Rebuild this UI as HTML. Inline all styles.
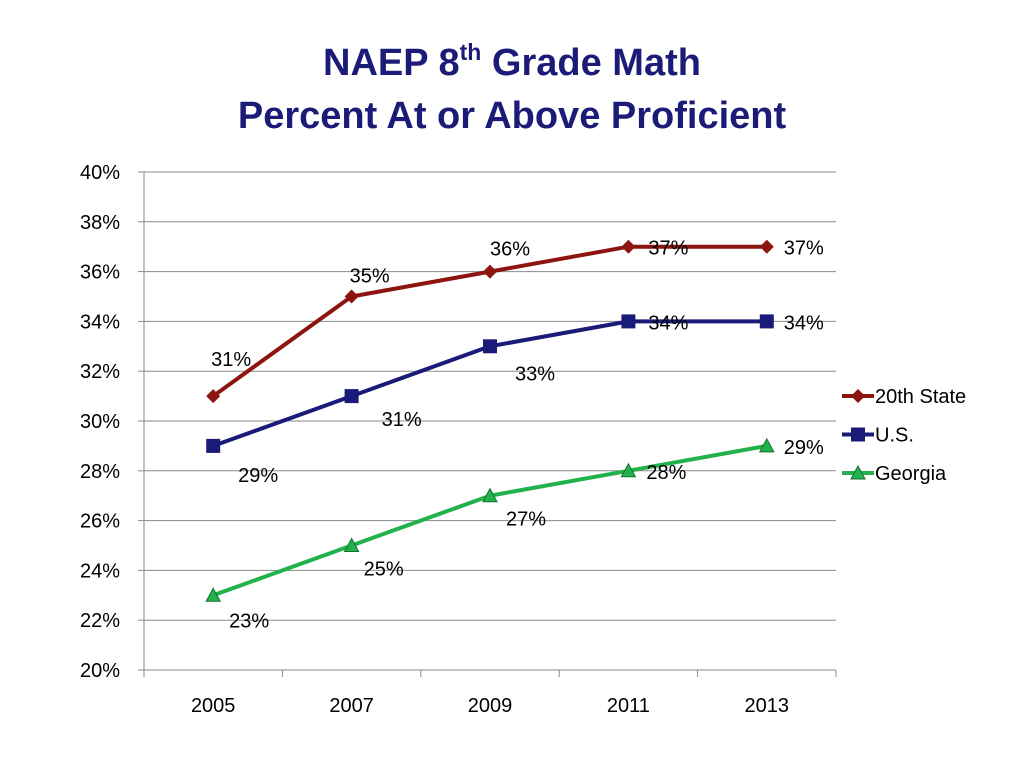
<!DOCTYPE html>
<html><head><meta charset="utf-8"><style>
body{margin:0;background:#fff;}
svg text{font-family:"Liberation Sans",sans-serif;}
</style></head><body>
<svg id="chart" width="1024" height="768">
<text x="512" y="75" text-anchor="middle" font-size="38" font-weight="bold" fill="#1c1c78">NAEP 8<tspan font-size="23" dy="-15">th</tspan><tspan dy="15"> Grade Math</tspan></text>
<text x="512" y="128" text-anchor="middle" font-size="38" font-weight="bold" fill="#1c1c78">Percent At or Above Proficient</text>
<g id="grid"></g><g id="axes"></g><g id="series"></g><g id="legend"></g>
</svg>
<script>
const categories=["2005","2007","2009","2011","2013"];
const yTicks=[20,22,24,26,28,30,32,34,36,38,40];
const stateVals=[31,35,36,37,37];
const usVals=[29,31,33,34,34];
const gaVals=[23,25,27,28,29];
const seriesNames=["20th State","U.S.","Georgia"];
// label offsets (style, not data)
const stateOff=[[18,-30],[18,-14],[20,-16],[40,8],[37,8]];
const usOff=[[45,36],[50,30],[45,34],[40,8],[37,8]];
const gaOff=[[36,32],[32,30],[36,30],[38,8],[37,8]];
const NS="http://www.w3.org/2000/svg";
const X0=144,X1=836,Y0=670,Y1=172;
const xs=i=>X0+(i+0.5)*(X1-X0)/categories.length;
const ys=v=>Y0-(v-20)/20*(Y0-Y1);
function mk(t,a,p){const e=document.createElementNS(NS,t);for(const k in a)e.setAttribute(k,a[k]);p.appendChild(e);return e;}
const grid=document.getElementById('grid'),axes=document.getElementById('axes'),ser=document.getElementById('series'),leg=document.getElementById('legend');
yTicks.forEach(v=>{
 if(v>20){const l=mk('line',{x1:X0,x2:X1,y1:ys(v),y2:ys(v),stroke:'#8a8a8a','stroke-width':1},grid);
 
 }
 const tk=mk('line',{x1:X0-6,x2:X0,y1:ys(v),y2:ys(v),stroke:'#8a8a8a'},axes);
 
 
 const t=mk('text',{x:X0-24,y:ys(v)+7,'text-anchor':'end','font-size':20,fill:'#000'},axes);t.textContent=v+'%';
 
 
});
const ya=mk('line',{x1:X0,x2:X0,y1:Y1,y2:Y0,stroke:'#8a8a8a'},axes);


const xa=mk('line',{x1:X0,x2:X1,y1:Y0,y2:Y0,stroke:'#8a8a8a'},axes);


for(let i=0;i<=categories.length;i++){const x=X0+i*(X1-X0)/categories.length;
 const tk=mk('line',{x1:x,x2:x,y1:Y0,y2:Y0+7,stroke:'#8a8a8a'},axes);
 
 }
categories.forEach((c,i)=>{const t=mk('text',{x:xs(i),y:Y0+42,'text-anchor':'middle','font-size':20},axes);t.textContent=c;
 
 });
function marker(type,x,y,fill,g){
 if(type==='d')return mk('polygon',{points:`${x},${y-7} ${x+7},${y} ${x},${y+7} ${x-7},${y}`,fill:fill},g);
 if(type==='s')return mk('rect',{x:x-7,y:y-7,width:14,height:14,fill:fill},g);
 return mk('polygon',{points:`${x},${y-7} ${x+7},${y+6} ${x-7},${y+6}`,fill:fill,stroke:'#107030','stroke-width':1},g);
}
const defs=[[stateVals,'#8c1510','d',stateOff],[usVals,'#1a1a78','s',usOff],[gaVals,'#22b24c','t',gaOff]];
defs.forEach(([vals,col,m,off],si)=>{
 const g=mk('g',{},ser);
 
 
 const p=mk('polyline',{points:vals.map((v,i)=>xs(i)+','+ys(v)).join(' '),fill:'none',stroke:col,'stroke-width':4,'stroke-linejoin':'round'},g);
 
 
 vals.forEach((v,i)=>{const mm=marker(m,xs(i),ys(v),col,g);
  
  
  const t=mk('text',{x:xs(i)+off[i][0],y:ys(v)+off[i][1],'text-anchor':'middle','font-size':20},g);t.textContent=v+'%';
  
  });
 const ly=396+si*38.5;
 const lg=mk('g',{},leg);
 
 
 mk('line',{x1:842,x2:874,y1:ly,y2:ly,stroke:col,'stroke-width':4},lg);
 marker(m,858,ly,col,lg);
 const t=mk('text',{x:875,y:ly+7,'font-size':20},lg);t.textContent=seriesNames[si];
});
</script>
</body></html>
